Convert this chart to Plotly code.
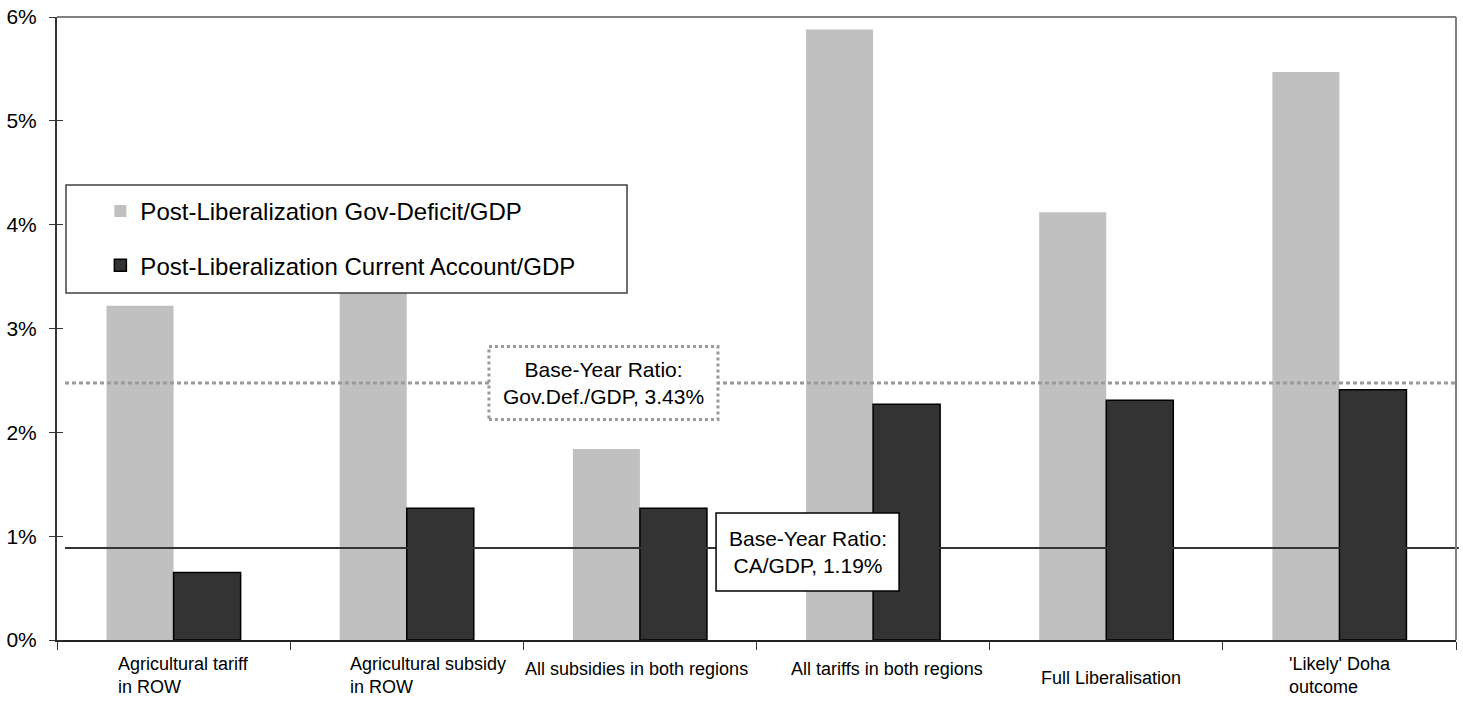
import plotly.graph_objects as go

# scenarios along the x axis
categories = [
    "Agricultural tariff in ROW",
    "Agricultural subsidy in ROW",
    "All subsidies in both regions",
    "All tariffs in both regions",
    "Full Liberalisation",
    "'Likely' Doha outcome",
]
tick_labels = [
    "Agricultural tariff<br>in ROW",
    "Agricultural subsidy<br>in ROW",
    "All subsidies in both regions",
    "All tariffs in both regions",
    "Full Liberalisation",
    "'Likely' Doha<br>outcome",
]

# values in percent of GDP
gov_deficit = [3.22, 3.40, 1.84, 5.88, 4.12, 5.47]
current_account = [0.65, 1.27, 1.27, 2.27, 2.31, 2.41]

# base-year reference lines (as drawn) and their labels
base_gov_level = 2.475
base_ca_level = 0.885
base_gov_text = "Base-Year Ratio:<br>Gov.Def./GDP, 3.43%"
base_ca_text = "Base-Year Ratio:<br>CA/GDP, 1.19%"

y_ticks = [0, 1, 2, 3, 4, 5, 6]

FONT = "Liberation Sans, Arial, sans-serif"
BAR_W = 0.2875

fig = go.Figure()
fig.add_trace(go.Bar(
    x=categories, y=gov_deficit, name="Post-Liberalization Gov-Deficit/GDP",
    width=BAR_W, offset=-BAR_W, marker=dict(color="#c0c0c0", line=dict(width=0)),
    legendgroup="a",
))
fig.add_trace(go.Bar(
    x=categories, y=current_account, name="Post-Liberalization Current Account/GDP",
    width=BAR_W, offset=0, marker=dict(color="#333333", line=dict(color="#000000", width=1.5)),
    legendgroup="b",
))

shapes = [
    # base-year CA/GDP line
    dict(type="line", xref="paper", yref="y", x0=0.0057, x1=1.002,
         y0=base_ca_level, y1=base_ca_level, line=dict(color="#333333", width=2)),
    # base-year Gov.Def./GDP line
    dict(type="line", xref="paper", yref="y", x0=0.0057, x1=1.0,
         y0=base_gov_level, y1=base_gov_level,
         line=dict(color="#999999", width=3, dash="4px,3px")),
    # frame: top and right borders in grey
    dict(type="line", xref="paper", yref="paper", x0=0, x1=1, y0=1, y1=1,
         line=dict(color="#808080", width=2)),
    dict(type="line", xref="paper", yref="paper", x0=1, x1=1, y0=0, y1=1,
         line=dict(color="#808080", width=2)),
    # label boxes
    dict(type="rect", xref="paper", yref="y", xsizemode="pixel", ysizemode="pixel",
         xanchor=0.3906, yanchor=base_gov_level, x0=-114.5, x1=114.5, y0=-36.5, y1=36.5,
         fillcolor="white", line=dict(color="#999999", width=3, dash="dot")),
    dict(type="rect", xref="paper", yref="y", xsizemode="pixel", ysizemode="pixel",
         xanchor=0.5365, yanchor=base_ca_level, x0=-91.5, x1=91.5, y0=-43, y1=35,
         fillcolor="white", line=dict(color="#000000", width=1.5)),
    # legend box
    dict(type="rect", xref="paper", yref="paper", xsizemode="pixel", ysizemode="pixel",
         xanchor=0, yanchor=1, x0=9, x1=570, y0=-168, y1=-276,
         fillcolor="white", line=dict(color="#404040", width=1.5)),
]

annotations = [
    dict(text=base_gov_text, xref="paper", yref="y", x=0.3906, y=base_gov_level,
         showarrow=False, font=dict(size=21, color="black", family=FONT), align="center"),
    dict(text=base_ca_text, xref="paper", yref="y", x=0.5365, y=base_ca_level, yshift=-4,
         showarrow=False, font=dict(size=21, color="black", family=FONT), align="center"),
]

# category labels, left aligned and staggered as in the original
label_xshift = [-58, -59, -117, -84, -67, -52]
label_yshift = [-35.5, -35.5, -29, -29, -38, -35.5]
for cat, lab, dx, dy in zip(categories, tick_labels, label_xshift, label_yshift):
    annotations.append(dict(
        text=lab, xref="x", yref="paper", x=cat, y=0, xanchor="left", yanchor="middle",
        xshift=dx, yshift=dy, showarrow=False, align="left",
        font=dict(size=18, color="black", family=FONT),
    ))

fig.update_layout(
    width=1463, height=702,
    margin=dict(l=57, r=7, t=17, b=62, autoexpand=False),
    barmode="overlay",
    plot_bgcolor="white", paper_bgcolor="white",
    font=dict(family=FONT, color="black"),
    showlegend=True,
    legend=dict(
        x=0.031, y=0.724, xanchor="left", yanchor="top",
        bgcolor="rgba(0,0,0,0)", borderwidth=0,
        font=dict(size=24, family=FONT, color="black"),
        traceorder="grouped", tracegroupgap=20,
    ),
    xaxis=dict(
        type="category", showticklabels=False, tickson="boundaries",
        ticks="outside", ticklen=8, tickcolor="#333333", tickwidth=1,
        showline=True, linecolor="#222222", linewidth=1.5,
        showgrid=False, zeroline=False, automargin=False,
    ),
    yaxis=dict(
        range=[0, 6], tickvals=y_ticks, ticktext=[f"{v}%" for v in y_ticks],
        ticks="outside", ticklen=6, tickcolor="#333333", tickwidth=1,
        ticklabelstandoff=8,
        minor=dict(ticks="inside", tickvals=y_ticks, ticklen=6,
                   tickcolor="#333333", tickwidth=1, showgrid=False),
        showline=True, linecolor="#333333", linewidth=2,
        showgrid=False, zeroline=False, automargin=False,
        tickfont=dict(size=21, family=FONT, color="black"),
    ),
    shapes=shapes,
    annotations=annotations,
)

# drop the browser's default 8px body margin so the figure sits at the page corner
fig.write_html("out.html", config={"displayModeBar": False},
               post_script="document.body.style.margin='0';")
